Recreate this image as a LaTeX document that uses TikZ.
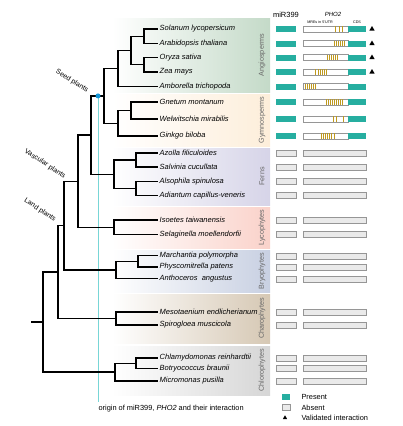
\documentclass[tikz,border=0pt]{standalone}
\usepackage{fontspec}
\setmainfont{Liberation Sans}
\usetikzlibrary{shapes.geometric}
\definecolor{hitteal}{RGB}{38,174,160}
\definecolor{missgrey}{RGB}{234,234,234}
\definecolor{rimgrey}{RGB}{150,150,150}
\definecolor{mregold}{RGB}{192,154,30}
\definecolor{origincyan}{RGB}{120,214,214}
\definecolor{origindot}{RGB}{20,150,215}
\definecolor{angiobg}{RGB}{196,218,200}
\definecolor{gymnobg}{RGB}{253,238,218}
\definecolor{fernbg}{RGB}{214,212,232}
\definecolor{lycobg}{RGB}{250,210,202}
\definecolor{bryobg}{RGB}{200,208,226}
\definecolor{charobg}{RGB}{214,200,180}
\definecolor{chlorobg}{RGB}{214,214,214}

\begin{document}
\begin{tikzpicture}[
  x=1pt,y=-1pt,
  branch/.style={line width=1.3pt},
  taxon/.style={anchor=west,inner xsep=1.5pt,inner ysep=0pt,font=\fontsize{7.5}{8}\selectfont\itshape},
  group/.style={rotate=90,inner ysep=0pt,text=black!60,font=\fontsize{7.2}{8}\selectfont},
  grade/.style={inner sep=0pt,font=\fontsize{7}{8}\selectfont},
  note/.style={inner ysep=0pt,font=\fontsize{7.4}{8}\selectfont},
  hit/.style={rectangle,fill=hitteal,minimum width=20pt,minimum height=6pt,inner sep=0pt},
  miss/.style={rectangle,draw=rimgrey,fill=missgrey,line width=0.5pt,minimum width=20pt,minimum height=6pt,inner sep=0pt},
  utr/.style={rectangle,draw=rimgrey,fill=white,line width=0.6pt,minimum width=45pt,minimum height=6pt,inner sep=0pt},
  cds/.style={rectangle,fill=hitteal,minimum width=18pt,minimum height=6pt,inner sep=0pt},
  nogene/.style={rectangle,draw=rimgrey,fill=missgrey,line width=0.5pt,minimum width=63pt,minimum height=6pt,inner sep=0pt},
  mre/.style={draw=mregold,line width=0.95pt},
  valid/.style={regular polygon,regular polygon sides=3,fill=black,minimum size=6pt,inner sep=0pt},
  dot/.style={circle,fill=origindot,minimum size=5pt,inner sep=0pt}
]
  \useasboundingbox (0,0) rectangle (402,426);

  \shade[left color=white,right color=angiobg] (112,18) rectangle (270,92);
  \shade[left color=white,right color=gymnobg] (112,94) rectangle (270,146);
  \shade[left color=white,right color=fernbg] (112,148) rectangle (270,205);
  \shade[left color=white,right color=lycobg] (112,207) rectangle (270,248);
  \shade[left color=white,right color=bryobg] (112,250) rectangle (270,292);
  \shade[left color=white,right color=charobg] (112,294) rectangle (270,343);
  \shade[left color=white,right color=chlorobg] (112,346) rectangle (270,395);

  \node[group] (angiolab) at (262,55) {Angiosperms};
  \node[group] (gymnolab) at (262,120) {Gymnosperms};
  \node[group] (fernlab) at (262,176.5) {Ferns};
  \node[group] (lycolab) at (262,227.5) {Lycophytes};
  \node[group] (bryolab) at (262,271) {Bryophytes};
  \node[group] (charolab) at (262,318.5) {Charophytes};
  \node[group] (chlorolab) at (262,370.5) {Chlorophytes};

  \node[taxon] (sol) at (158,29) {Solanum lycopersicum};
  \node[taxon] (ara) at (158,43.5) {Arabidopsis thaliana};
  \node[taxon] (ory) at (158,57.5) {Oryza sativa};
  \node[taxon] (zea) at (158,72) {Zea mays};
  \node[taxon] (amb) at (158,86.5) {Amborella trichopoda};
  \node[taxon] (gne) at (158,102) {Gnetum montanum};
  \node[taxon] (wel) at (158,119) {Welwitschia mirabilis};
  \node[taxon] (gin) at (158,136) {Ginkgo biloba};
  \node[taxon] (azo) at (158,153) {Azolla filiculoides};
  \node[taxon] (sal) at (158,167) {Salvinia cucullata};
  \node[taxon] (als) at (158,181.5) {Alsophila spinulosa};
  \node[taxon] (adi) at (158,195.5) {Adiantum capillus-veneris};
  \node[taxon] (iso) at (158,220) {Isoetes taiwanensis};
  \node[taxon] (sel) at (158,234.5) {Selaginella moellendorfii};
  \node[taxon] (mar) at (158,255.5) {Marchantia polymorpha};
  \node[taxon] (phy) at (158,267) {Physcomitrella patens};
  \node[taxon] (ant) at (158,278.5) {Anthoceros\ \ angustus};
  \node[taxon] (mes) at (158,312) {Mesotaenium endlicherianum};
  \node[taxon] (spi) at (158,325) {Spirogloea muscicola};
  \node[taxon] (chl) at (158,358) {Chlamydomonas reinhardtii};
  \node[taxon] (bot) at (158,368.5) {Botryococcus braunii};
  \node[taxon] (mic) at (158,381) {Micromonas pusilla};

  \coordinate (solara) at (144,36.25);
  \coordinate (oryzea) at (144,64.75);
  \coordinate (mesang) at (131,50.5);
  \coordinate (angio) at (118,68.5);
  \coordinate (gnewel) at (131,110.5);
  \coordinate (gymno) at (118,123.25);
  \coordinate (seed) at (104,95.9);
  \coordinate (azosal) at (136,160);
  \coordinate (alsadi) at (136,188.5);
  \coordinate (fern) at (114,174.25);
  \coordinate (euphyl) at (91,135.1);
  \coordinate (lyco) at (114,227.25);
  \coordinate (vasc) at (78,181.2);
  \coordinate (marphy) at (138,261.25);
  \coordinate (bryo) at (116,269.9);
  \coordinate (land) at (64,225.5);
  \coordinate (charo) at (116,318.5);
  \coordinate (strep) at (58,272);
  \coordinate (chlbot) at (136,363.25);
  \coordinate (chloro) at (115,372.1);
  \coordinate (root) at (43,322);
  \coordinate (base) at (31,322);
  \coordinate (cyanend) at (98,402);

  \draw[draw=origincyan,line width=1pt] (seed -| cyanend) -- (cyanend);

  \draw[branch] (solara) |- (sol.west);
  \draw[branch] (solara) |- (ara.west);
  \draw[branch] (oryzea) |- (ory.west);
  \draw[branch] (oryzea) |- (zea.west);
  \draw[branch] (mesang) |- (solara);
  \draw[branch] (mesang) |- (oryzea);
  \draw[branch] (angio) |- (mesang);
  \draw[branch] (angio) |- (amb.west);
  \draw[branch] (gnewel) |- (gne.west);
  \draw[branch] (gnewel) |- (wel.west);
  \draw[branch] (gymno) |- (gnewel);
  \draw[branch] (gymno) |- (gin.west);
  \draw[branch] (seed) |- (angio);
  \draw[branch] (seed) |- (gymno);
  \draw[branch] (azosal) |- (azo.west);
  \draw[branch] (azosal) |- (sal.west);
  \draw[branch] (alsadi) |- (als.west);
  \draw[branch] (alsadi) |- (adi.west);
  \draw[branch] (fern) |- (azosal);
  \draw[branch] (fern) |- (alsadi);
  \draw[branch] (euphyl) |- (seed);
  \draw[branch] (euphyl) |- (fern);
  \draw[branch] (lyco) |- (iso.west);
  \draw[branch] (lyco) |- (sel.west);
  \draw[branch] (vasc) |- (euphyl);
  \draw[branch] (vasc) |- (lyco);
  \draw[branch] (marphy) |- (mar.west);
  \draw[branch] (marphy) |- (phy.west);
  \draw[branch] (bryo) |- (marphy);
  \draw[branch] (bryo) |- (ant.west);
  \draw[branch] (land) |- (vasc);
  \draw[branch] (land) |- (bryo);
  \draw[branch] (charo) |- (mes.west);
  \draw[branch] (charo) |- (spi.west);
  \draw[branch] (strep) |- (land);
  \draw[branch] (strep) |- (charo);
  \draw[branch] (chlbot) |- (chl.west);
  \draw[branch] (chlbot) |- (bot.west);
  \draw[branch] (chloro) |- (chlbot);
  \draw[branch] (chloro) |- (mic.west);
  \draw[branch] (root) |- (strep);
  \draw[branch] (root) |- (chloro);
  \draw[branch] (base) -- (root);

  \node[dot] (orig) at (seed -| cyanend) {};

  \node[grade,rotate=-32] (seedlab) at (72,81) {Seed plants};
  \node[grade,rotate=-33] (vasclab) at (45,164) {Vascular plants};
  \node[grade,rotate=-33] (landlab) at (40,210) {Land plants};
  \node[note,anchor=west] (caption) at (95,408.5) {origin of miR399, \textit{PHO2} and their interaction};

  \node[font=\fontsize{7.5}{8}\selectfont] (mirhead) at (286,15) {miR399};
  \node[font=\fontsize{6}{7}\selectfont\itshape] (phohead) at (333,14) {PHO2};
  \node[font=\fontsize{3.7}{4}\selectfont,inner sep=0pt] (utrhead) at (320,22) {MREs in 5'UTR};
  \node[font=\fontsize{3.7}{4}\selectfont,inner sep=0pt] (cdshead) at (357,22) {CDS};

  \node[hit] (msol) at (286,29) {};
  \node[hit] (mara) at (286,43.5) {};
  \node[hit] (mory) at (286,57.5) {};
  \node[hit] (mzea) at (286,72) {};
  \node[hit] (mamb) at (286,86.5) {};
  \node[hit] (mgne) at (286,102) {};
  \node[hit] (mwel) at (286,119) {};
  \node[hit] (mgin) at (286,136) {};

  \node[utr] (usol) at (325.5,29) {};
  \node[utr] (uara) at (325.5,43.5) {};
  \node[utr] (uory) at (325.5,57.5) {};
  \node[utr] (uzea) at (325.5,72) {};
  \node[utr] (uamb) at (325.5,86.5) {};
  \node[utr] (ugne) at (325.5,102) {};
  \node[utr] (uwel) at (325.5,119) {};
  \node[utr] (ugin) at (325.5,136) {};

  \draw[mre] (335,26.4) -- ++(0,5.2) (339.5,26.4) -- ++(0,5.2) (342,26.4) -- ++(0,5.2);
  \draw[mre] (334,40.9) -- ++(0,5.2) (336.5,40.9) -- ++(0,5.2) (338.5,40.9) -- ++(0,5.2)
    (340.5,40.9) -- ++(0,5.2) (342.5,40.9) -- ++(0,5.2) (344.5,40.9) -- ++(0,5.2);
  \draw[mre] (327,54.9) -- ++(0,5.2) (329,54.9) -- ++(0,5.2) (331,54.9) -- ++(0,5.2)
    (333,54.9) -- ++(0,5.2) (335,54.9) -- ++(0,5.2) (337.5,54.9) -- ++(0,5.2);
  \draw[mre] (315.5,69.4) -- ++(0,5.2) (318,69.4) -- ++(0,5.2) (320,69.4) -- ++(0,5.2)
    (322,69.4) -- ++(0,5.2) (324,69.4) -- ++(0,5.2) (326.5,69.4) -- ++(0,5.2);
  \draw[mre] (305,83.9) -- ++(0,5.2) (307,83.9) -- ++(0,5.2) (309,83.9) -- ++(0,5.2)
    (311,83.9) -- ++(0,5.2) (313,83.9) -- ++(0,5.2) (315,83.9) -- ++(0,5.2);
  \draw[mre] (326.5,99.4) -- ++(0,5.2) (328.5,99.4) -- ++(0,5.2) (330.5,99.4) -- ++(0,5.2)
    (332.5,99.4) -- ++(0,5.2) (334.5,99.4) -- ++(0,5.2) (336.5,99.4) -- ++(0,5.2)
    (338.5,99.4) -- ++(0,5.2) (340.5,99.4) -- ++(0,5.2) (342.5,99.4) -- ++(0,5.2);
  \draw[mre] (333.5,116.4) -- ++(0,5.2) (336,116.4) -- ++(0,5.2) (343,116.4) -- ++(0,5.2);
  \draw[mre] (321,133.4) -- ++(0,5.2) (323,133.4) -- ++(0,5.2) (325,133.4) -- ++(0,5.2)
    (327,133.4) -- ++(0,5.2) (329,133.4) -- ++(0,5.2) (331.5,133.4) -- ++(0,5.2)
    (334,133.4) -- ++(0,5.2);

  \node[cds] (csol) at (357,29) {};
  \node[cds] (cara) at (357,43.5) {};
  \node[cds] (cory) at (357,57.5) {};
  \node[cds] (czea) at (357,72) {};
  \node[cds] (camb) at (357,86.5) {};
  \node[cds] (cgne) at (357,102) {};
  \node[cds] (cwel) at (357,119) {};
  \node[cds] (cgin) at (357,136) {};

  \node[valid] (vsol) at (372,29) {};
  \node[valid] (vara) at (372,43.5) {};
  \node[valid] (vory) at (372,57.5) {};
  \node[valid] (vzea) at (372,72) {};

  \node[miss] (mazo) at (286,153) {};
  \node[miss] (msal) at (286,167) {};
  \node[miss] (mals) at (286,181.5) {};
  \node[miss] (madi) at (286,195.5) {};
  \node[miss] (miso) at (286,220) {};
  \node[miss] (msel) at (286,234.5) {};
  \node[miss] (mmar) at (286,256) {};
  \node[miss] (mphy) at (286,267) {};
  \node[miss] (mant) at (286,279) {};
  \node[miss] (mmes) at (286,312) {};
  \node[miss] (mspi) at (286,325) {};
  \node[miss] (mchl) at (286,358.5) {};
  \node[miss] (mbot) at (286,368.5) {};
  \node[miss] (mmic) at (286,381) {};

  \node[nogene] (pazo) at (334.5,153) {};
  \node[nogene] (psal) at (334.5,167) {};
  \node[nogene] (pals) at (334.5,181.5) {};
  \node[nogene] (padi) at (334.5,195.5) {};
  \node[nogene] (piso) at (334.5,220) {};
  \node[nogene] (psel) at (334.5,234.5) {};
  \node[nogene] (pmar) at (334.5,256) {};
  \node[nogene] (pphy) at (334.5,267) {};
  \node[nogene] (pant) at (334.5,279) {};
  \node[nogene] (pmes) at (334.5,312) {};
  \node[nogene] (pspi) at (334.5,325) {};
  \node[nogene] (pchl) at (334.5,358.5) {};
  \node[nogene] (pbot) at (334.5,368.5) {};
  \node[nogene] (pmic) at (334.5,381) {};

  \node[hit,minimum width=8pt,minimum height=5.5pt] (keyhit) at (286,397.2) {};
  \node[miss,minimum width=8pt,minimum height=6pt] (keymiss) at (286,407.5) {};
  \node[valid,minimum size=5pt] (keyvalid) at (285,417.8) {};
  \node[note,anchor=west] (keyhittext) at (298,397.2) {Present};
  \node[note,anchor=west] (keymisstext) at (298,407.5) {Absent};
  \node[note,anchor=west] (keyvalidtext) at (298,417.8) {Validated interaction};
\end{tikzpicture}
\end{document}
